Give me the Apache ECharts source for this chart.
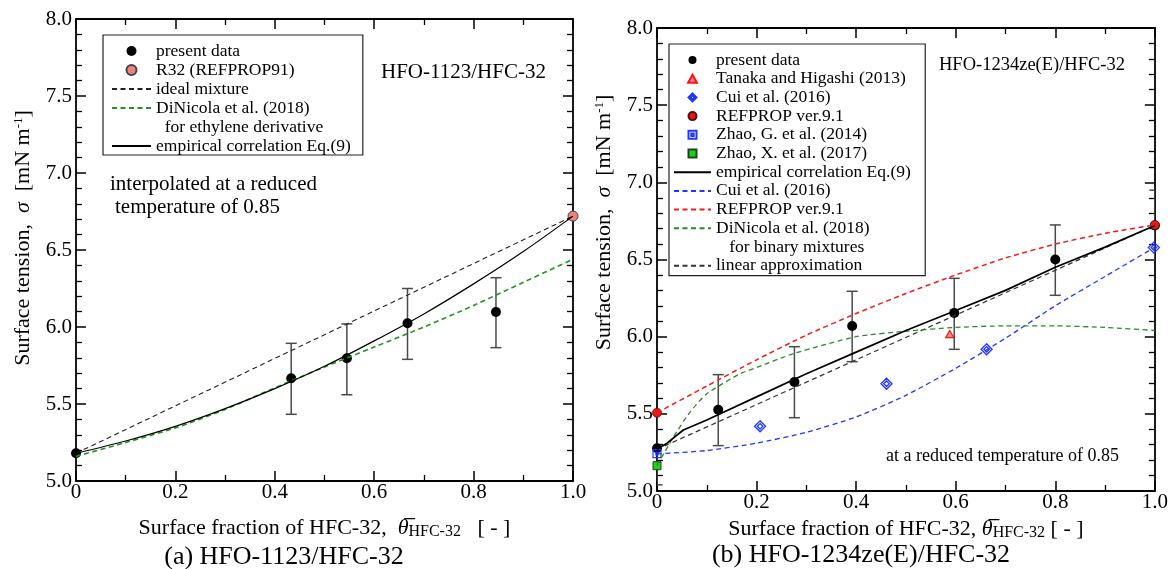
<!DOCTYPE html>
<html>
<head>
<meta charset="utf-8">
<script src="https://cdn.jsdelivr.net/npm/echarts@6/dist/echarts.min.js"></script>
<style>
  html, body { margin: 0; padding: 0; background: #fff; }
  #chart { width: 1171px; height: 569px; }
</style>
</head>
<body>
<div id="chart"></div>
<script>
// ---- (a) HFO-1123/HFC-32 ----
const aPresX = [0, 0.433, 0.545, 0.667, 0.845];
const aPresY = [5.18, 5.667, 5.797, 6.024, 6.097];
const aErrX = [0.433, 0.545, 0.667, 0.845];
const aErrLow = [5.433, 5.56, 5.79, 5.866];
const aErrHigh = [5.894, 6.02, 6.25, 6.32];
const aR32 = [[1.0, 6.72]];
const aIdealX = [0, 1];
const aIdealY = [5.18, 6.72];
const aCurveX = [0, 0.1, 0.2, 0.3, 0.4, 0.5, 0.6, 0.7, 0.8, 0.9, 1.0];
const aDiNicolaY = [5.16, 5.25, 5.345, 5.465, 5.605, 5.74, 5.87, 6.0, 6.14, 6.29, 6.44];
const aEmpiricalY = [5.18, 5.26, 5.355, 5.47, 5.6, 5.745, 5.91, 6.085, 6.28, 6.49, 6.72];

// ---- (b) HFO-1234ze(E)/HFC-32 ----
const bPresX = [0, 0.123, 0.276, 0.392, 0.597, 0.8, 1.0];
const bPresY = [5.277, 5.527, 5.706, 6.069, 6.154, 6.5, 6.72];
const bErrLow = [5.04, 5.294, 5.475, 5.838, 5.918, 6.268, 6.497];
const bErrHigh = [5.5, 5.754, 5.935, 6.294, 6.378, 6.724, 6.949];
const bTanaka = [[0.588, 6.017]];
const bCuiPtsX = [0.207, 0.461, 0.662, 0.998];
const bCuiPtsY = [5.419, 5.695, 5.918, 6.577];
const bRefpropPts = [[0, 5.507], [1.0, 6.724]];
const bZhaoG = [[0, 5.242]];
const bZhaoX = [[0, 5.164]];
const bEmpX = [0, 0.02, 0.053, 0.1, 0.2, 0.3, 0.4, 0.5, 0.6, 0.7, 0.8, 0.9, 1.0];
const bEmpY = [5.27, 5.31, 5.395, 5.46, 5.61, 5.76, 5.9, 6.04, 6.17, 6.3, 6.45, 6.58, 6.72];
const bLinX = [0, 1];
const bLinY = [5.27, 6.72];
const bCuiX = [0, 0.1, 0.2, 0.3, 0.4, 0.5, 0.6, 0.7, 0.8, 0.9, 1.0];
const bCuiY = [5.24, 5.262, 5.31, 5.38, 5.48, 5.62, 5.795, 5.99, 6.2, 6.39, 6.58];
const bRefX = [0, 0.1, 0.2, 0.3, 0.4, 0.5, 0.6, 0.7, 0.8, 0.9, 1.0];
const bRefY = [5.507, 5.68, 5.85, 6.01, 6.15, 6.28, 6.4, 6.51, 6.6, 6.67, 6.724];
const bDiNX = [0, 0.033, 0.066, 0.1, 0.167, 0.2, 0.274, 0.4, 0.5, 0.6, 0.7, 0.8, 0.9, 1.0];
const bDiNY = [5.165, 5.35, 5.51, 5.63, 5.76, 5.8, 5.89, 6.0, 6.035, 6.06, 6.07, 6.07, 6.06, 6.04];

const FONT = '"Liberation Serif", "Times New Roman", serif';
const zip = (xs, ys) => xs.map((x, i) => [x, ys[i]]);
const zip3 = (xs, lo, hi) => xs.map((x, i) => [x, lo[i], hi[i]]);

const chart = echarts.init(document.getElementById('chart'));

// 误差棒
function errRender(params, api) {
  const x = api.value(0);
  const top = api.coord([x, api.value(2)]);
  const bot = api.coord([x, api.value(1)]);
  const w = 5.5;
  const st = { stroke: '#4a4a4a', lineWidth: 1.5 };
  return {
    type: 'group',
    children: [
      { type: 'line', shape: { x1: top[0], y1: top[1], x2: bot[0], y2: bot[1] }, style: st },
      { type: 'line', shape: { x1: top[0] - w, y1: top[1], x2: top[0] + w, y2: top[1] }, style: st },
      { type: 'line', shape: { x1: bot[0] - w, y1: bot[1], x2: bot[0] + w, y2: bot[1] }, style: st }
    ]
  };
}

function xAxisOf(grid, pos, labels) {
  return {
    type: 'value', gridIndex: grid, position: pos, min: 0, max: 1, interval: 0.2,
    axisLine: { show: true, onZero: false, lineStyle: { color: '#000', width: 1.8 } },
    axisTick: { show: true, inside: true, length: 10, lineStyle: { color: '#000', width: 1.5 } },
    minorTick: { show: true, splitNumber: 2, length: 6, lineStyle: { color: '#000', width: 1.3 } },
    splitLine: { show: false },
    axisLabel: {
      show: labels, margin: 1, fontFamily: FONT, fontSize: 21, color: '#000',
      formatter: v => (v === 0 ? '0' : v.toFixed(1))
    }
  };
}

function yAxisOf(grid, pos, labels, namePad) {
  const ax = {
    type: 'value', gridIndex: grid, position: pos, min: 5, max: 8, interval: 0.5,
    axisLine: { show: true, onZero: false, lineStyle: { color: '#000', width: 1.8 } },
    axisTick: { show: true, inside: true, length: 10, lineStyle: { color: '#000', width: 1.5 } },
    minorTick: { show: true, splitNumber: 5, length: 6, lineStyle: { color: '#000', width: 1.3 } },
    splitLine: { show: false },
    axisLabel: {
      show: labels, margin: 4, fontFamily: FONT, fontSize: 21, color: '#000',
      formatter: v => v.toFixed(1)
    }
  };
  if (labels) {
    ax.name = 'Surface tension,  {i|σ}  [mN m{sup|-1}]';
    ax.nameLocation = 'middle';
    ax.nameGap = 42;
    ax.nameTextStyle = {
      fontFamily: FONT, fontSize: 22, color: '#000', padding: [0, 0, 0, namePad],
      rich: {
        i: { fontFamily: FONT, fontSize: 22, fontStyle: 'italic', color: '#000' },
        sup: { fontFamily: FONT, fontSize: 13, color: '#000', padding: [0, 0, 9, 0] }
      }
    };
  }
  return ax;
}

const xNameRich = {
  th: { fontFamily: FONT, fontSize: 22, fontStyle: 'italic', color: '#000' },
  sub: { fontFamily: FONT, fontSize: 16, color: '#000', padding: [7, 0, 0, 0] }
};

const xA = xAxisOf(0, 'bottom', true);
xA.name = 'Surface fraction of HFC-32,  {th|θ\u0305}{sub|HFC-32}   [ - ]';
xA.nameLocation = 'middle';
xA.nameGap = 36;
xA.nameTextStyle = { fontFamily: FONT, fontSize: 22, color: '#000', rich: xNameRich };
const xB = xAxisOf(1, 'bottom', true);
xB.name = 'Surface fraction of HFC-32, {th|θ\u0305}{sub|HFC-32} [ - ]';
xB.nameLocation = 'middle';
xB.nameGap = 25;
xB.nameTextStyle = { fontFamily: FONT, fontSize: 22, color: '#000', rich: xNameRich };

const dash = [5, 3.5];
const noSym = { color: 'rgba(0,0,0,0)', borderWidth: 0 };

const option = {
  animation: false,
  backgroundColor: '#fff',
  textStyle: { fontFamily: FONT },
  grid: [
    { left: 76, top: 19, width: 497, height: 462 },
    { left: 657, top: 28, width: 498, height: 463 }
  ],
  xAxis: [xA, xAxisOf(0, 'top', false), xB, xAxisOf(1, 'top', false)],
  yAxis: [yAxisOf(0, 'left', true, 24), yAxisOf(0, 'right', false), yAxisOf(1, 'left', true, 74), yAxisOf(1, 'right', false)],
  legend: [
    {
      orient: 'vertical', left: 103, top: 35, padding: [7, 12, 0, 8],
      borderColor: '#222', borderWidth: 1.2, backgroundColor: '#fff',
      itemWidth: 39, itemHeight: 10, itemGap: 1, selectedMode: false,
      textStyle: { fontFamily: FONT, fontSize: 17.5, lineHeight: 16, color: '#000' },
      data: [
        'present data', 'R32 (REFPROP91)', 'ideal mixture', 'DiNicola et al. (2018)',
        { name: '  for ethylene derivative', icon: 'none' },
        'empirical correlation Eq.(9)'
      ]
    },
    {
      orient: 'vertical', left: 669, top: 44, padding: [7, 10, 1, 4],
      borderColor: '#222', borderWidth: 1.2, backgroundColor: '#fff',
      itemWidth: 37, itemHeight: 8, itemGap: 0.7, selectedMode: false,
      textStyle: { fontFamily: FONT, fontSize: 17.5, lineHeight: 16, color: '#000' },
      data: [
        'present data ', 'Tanaka and Higashi (2013)', 'Cui et al. (2016)', 'REFPROP ver.9.1',
        'Zhao, G. et al. (2014)', 'Zhao, X. et al. (2017)', 'empirical correlation Eq.(9) ',
        'Cui et al. (2016) ', 'REFPROP ver.9.1 ', 'DiNicola et al. (2018) ',
        { name: '   for binary mixtures', icon: 'none' },
        'linear approximation'
      ]
    }
  ],
  graphic: [
    { type: 'text', x: 381, y: 72, style: { text: 'HFO-1123/HFC-32', font: '21px ' + FONT, fill: '#000', verticalAlign: 'middle' } },
    { type: 'text', x: 110, y: 184, style: { text: 'interpolated at a reduced', font: '21px ' + FONT, fill: '#000', verticalAlign: 'middle' } },
    { type: 'text', x: 115, y: 207, style: { text: 'temperature of 0.85', font: '21px ' + FONT, fill: '#000', verticalAlign: 'middle' } },
    { type: 'text', x: 939, y: 65, style: { text: 'HFO-1234ze(E)/HFC-32', font: '18.5px ' + FONT, fill: '#000', verticalAlign: 'middle' } },
    { type: 'text', x: 886, y: 456, style: { text: 'at a reduced temperature of 0.85', font: '18px ' + FONT, fill: '#000', verticalAlign: 'middle' } },
    { type: 'text', x: 284, y: 557, style: { text: '(a) HFO-1123/HFC-32', font: '26px ' + FONT, fill: '#000', align: 'center', verticalAlign: 'middle' } },
    { type: 'text', x: 861, y: 555, style: { text: '(b) HFO-1234ze(E)/HFC-32', font: '26px ' + FONT, fill: '#000', align: 'center', verticalAlign: 'middle' } }
  ],
  series: [
    // (a)
    { name: 'ideal mixture', type: 'line', xAxisIndex: 0, yAxisIndex: 0, symbol: 'none',
      data: zip(aIdealX, aIdealY), lineStyle: { color: '#222', width: 1.1, type: dash }, itemStyle: noSym },
    { name: 'DiNicola et al. (2018)', type: 'line', xAxisIndex: 0, yAxisIndex: 0, symbol: 'none', smooth: 0.3,
      data: zip(aCurveX, aDiNicolaY), lineStyle: { color: '#1c961c', width: 1.6, type: dash }, itemStyle: noSym },
    { name: 'empirical correlation Eq.(9)', type: 'line', xAxisIndex: 0, yAxisIndex: 0, symbol: 'none', smooth: 0.3,
      data: zip(aCurveX, aEmpiricalY), lineStyle: { color: '#000', width: 1.2 }, itemStyle: noSym },
    { name: 'errA', type: 'custom', xAxisIndex: 0, yAxisIndex: 0, renderItem: errRender, clip: true,
      encode: { x: 0, y: [1, 2] }, data: zip3(aErrX, aErrLow, aErrHigh) },
    { name: 'present data', type: 'scatter', xAxisIndex: 0, yAxisIndex: 0, symbol: 'circle', symbolSize: 10,
      data: zip(aPresX, aPresY), itemStyle: { color: '#000', opacity: 1 } },
    { name: 'R32 (REFPROP91)', type: 'scatter', xAxisIndex: 0, yAxisIndex: 0, symbol: 'circle', symbolSize: 10,
      data: aR32, itemStyle: { color: '#f4827c', borderColor: '#444', borderWidth: 1, opacity: 1 } },
    { name: '  for ethylene derivative', type: 'scatter', xAxisIndex: 0, yAxisIndex: 0, data: [] },

    // (b)
    { name: 'linear approximation', type: 'line', xAxisIndex: 2, yAxisIndex: 2, symbol: 'none',
      data: zip(bLinX, bLinY), lineStyle: { color: '#333', width: 1.2, type: dash }, itemStyle: noSym },
    { name: 'Cui et al. (2016) ', type: 'line', xAxisIndex: 2, yAxisIndex: 2, symbol: 'none', smooth: 0.2,
      data: zip(bCuiX, bCuiY), lineStyle: { color: '#2036ff', width: 1.3, type: dash }, itemStyle: noSym },
    { name: 'REFPROP ver.9.1 ', type: 'line', xAxisIndex: 2, yAxisIndex: 2, symbol: 'none', smooth: 0.2,
      data: zip(bRefX, bRefY), lineStyle: { color: '#f21c1c', width: 1.5, type: dash }, itemStyle: noSym },
    { name: 'DiNicola et al. (2018) ', type: 'line', xAxisIndex: 2, yAxisIndex: 2, symbol: 'none', smooth: 0.2,
      data: zip(bDiNX, bDiNY), lineStyle: { color: '#2a8a2a', width: 1.3, type: dash }, itemStyle: noSym },
    { name: '   for binary mixtures', type: 'scatter', xAxisIndex: 2, yAxisIndex: 2, data: [] },
    { name: 'empirical correlation Eq.(9) ', type: 'line', xAxisIndex: 2, yAxisIndex: 2, symbol: 'none',
      data: zip(bEmpX, bEmpY), lineStyle: { color: '#000', width: 1.7 }, itemStyle: noSym },
    { name: 'errB', type: 'custom', xAxisIndex: 2, yAxisIndex: 2, renderItem: errRender, clip: true,
      encode: { x: 0, y: [1, 2] }, data: zip3(bPresX, bErrLow, bErrHigh) },
    { name: 'present data ', type: 'scatter', xAxisIndex: 2, yAxisIndex: 2, symbol: 'circle', symbolSize: 10,
      data: zip(bPresX, bPresY), itemStyle: { color: '#000', opacity: 1 } },
    { name: 'Tanaka and Higashi (2013)', type: 'scatter', xAxisIndex: 2, yAxisIndex: 2,
      symbol: 'path://M0,-5L5,4L-5,4Z', symbolSize: 8, symbolKeepAspect: true,
      data: bTanaka, itemStyle: { color: '#ff9090', borderColor: '#ff1010', borderWidth: 1.2, opacity: 1 } },
    { name: 'Cui et al. (2016)', type: 'scatter', xAxisIndex: 2, yAxisIndex: 2,
      symbol: 'path://M0,-10L10,0L0,10L-10,0Z M0,-5L5,0L0,5L-5,0Z', symbolSize: 11, symbolKeepAspect: true,
      data: zip(bCuiPtsX, bCuiPtsY), itemStyle: { color: 'rgba(255,255,255,0)', borderColor: '#2036ff', borderWidth: 1.3, opacity: 1 } },
    { name: 'REFPROP ver.9.1', type: 'scatter', xAxisIndex: 2, yAxisIndex: 2, symbol: 'circle', symbolSize: 9,
      data: bRefpropPts, itemStyle: { color: '#ee1515', borderColor: '#551010', borderWidth: 0.8, opacity: 1 } },
    { name: 'Zhao, G. et al. (2014)', type: 'scatter', xAxisIndex: 2, yAxisIndex: 2,
      symbol: 'path://M-5,-5L5,-5L5,5L-5,5Z M-1.5,-1.5L1.5,-1.5L1.5,1.5L-1.5,1.5Z', symbolSize: 8, symbolKeepAspect: true,
      data: bZhaoG, itemStyle: { color: 'rgba(255,255,255,0)', borderColor: '#2036ff', borderWidth: 1.2, opacity: 1 } },
    { name: 'Zhao, X. et al. (2017)', type: 'scatter', xAxisIndex: 2, yAxisIndex: 2,
      symbol: 'path://M-5,-5L5,-5L5,5L-5,5Z', symbolSize: 8, symbolKeepAspect: true,
      data: bZhaoX, itemStyle: { color: '#22cc22', borderColor: '#1a4a1a', borderWidth: 1, opacity: 1 } }
  ]
};

chart.setOption(option);
</script>
</body>
</html>
